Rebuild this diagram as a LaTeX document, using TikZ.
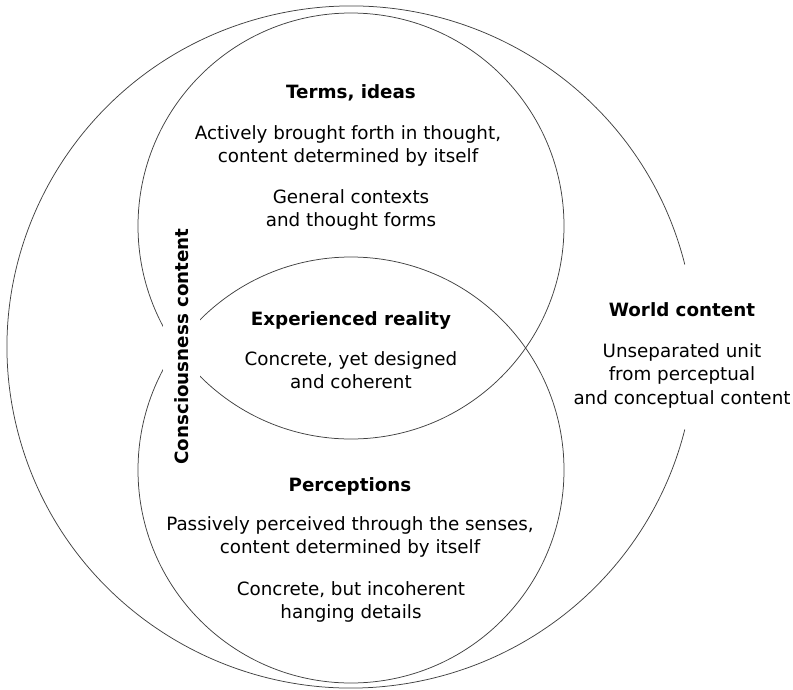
\documentclass[tikz,border=0pt]{standalone}
\usepackage{fontspec}
\setmainfont{DejaVu Sans}
\usepackage{tikz}
\newcommand{\textlines}[1]{\begin{tabular}[t]{@{}c@{}}#1\end{tabular}}

\begin{document}
\begin{tikzpicture}[x=1pt,y=1pt,ring/.style={draw=black!75,line width=0.75pt},head node/.style={anchor=base,inner sep=0pt,font=\fontsize{18.3}{23.5}\selectfont\bfseries},body node/.style={anchor=base,inner sep=0pt,font=\fontsize{18.3}{23.5}\selectfont}]
			
			\useasboundingbox (0,0) rectangle (793,-689);
			
			\draw[ring] (351,-226) circle (213pt);
			\draw[ring] (351,-470) circle (213pt);
			\draw[ring] (684.8,-264.5) arc[start angle=14,end angle=346,x radius=344pt,y radius=341pt];
			
			\node[head node] (terms) at (351,-98) {Terms, ideas};
			\node[body node] (terms text) at (348,-139) {\textlines{Actively brought forth in thought,\\content determined by itself}};
			\node[body node] (terms forms) at (351,-203) {\textlines{General contexts\\and thought forms}};
			
			\node[head node] (reality) at (351,-325) {Experienced reality};
			\node[body node] (reality text) at (351,-365) {\textlines{Concrete, yet designed\\and coherent}};
			
			\node[head node] (perceptions) at (350,-491) {Perceptions};
			\node[body node] (perceptions text) at (350,-530) {\textlines{Passively perceived through the senses,\\content determined by itself}};
			\node[body node] (perceptions details) at (351,-595) {\textlines{Concrete, but incoherent\\hanging details}};
			
			\node[head node] (world) at (682,-316) {World content};
			\node[body node] (world text) at (682,-357) {\textlines{Unseparated unit\\from perceptual\\and conceptual content}};
			
			\node[head node,anchor=center,rotate=90,fill=white,inner xsep=0pt,inner ysep=11.7pt] (consciousness) at (181.5,-346.5) {Consciousness content};
			\end{tikzpicture}
\end{document}
